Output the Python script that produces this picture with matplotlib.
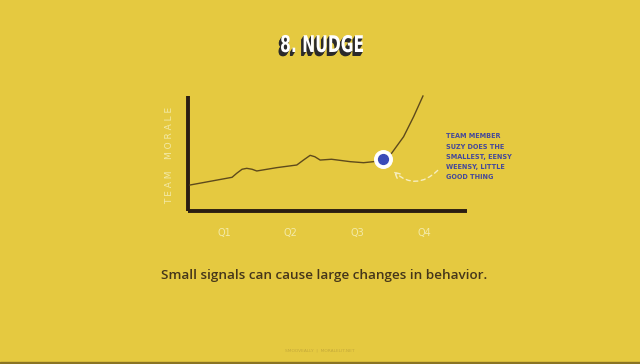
import numpy as np
import matplotlib.pyplot as plt
from matplotlib.patches import Rectangle, PathPatch
from matplotlib.textpath import TextPath
from matplotlib.font_manager import FontProperties
from matplotlib.transforms import Affine2D

# morale curve, x in quarters, y in morale units
curve_x = [0.49, 1.12, 1.19, 1.27, 1.34, 1.42, 1.49, 1.79, 2.09, 2.19, 2.29,
           2.36, 2.44, 2.61, 2.89, 3.09, 3.24, 3.38, 3.51, 3.69, 3.84, 3.98]
curve_y = [2.26, 2.93, 3.28, 3.63, 3.71, 3.63, 3.48, 3.77, 4.00, 4.43, 4.84,
           4.72, 4.43, 4.50, 4.29, 4.20, 4.29, 4.52, 5.02, 6.46, 8.20, 10.0]
nudge_x, nudge_y = 3.38, 4.52
quarters = [1, 2, 3, 4]
quarter_labels = ['Q1', 'Q2', 'Q3', 'Q4']
note = "TEAM MEMBER\nSUZY DOES THE\nSMALLEST, EENSY\nWEENSY, LITTLE\nGOOD THING"

bg = '#e5c940'
ink = '#2a1d12'

fig = plt.figure(figsize=(6.4, 3.64), dpi=100, facecolor=bg)

# overlay in pixel units for the condensed title
ov = fig.add_axes([0, 0, 1, 1])
ov.set_xlim(0, 640)
ov.set_ylim(0, 364)
ov.axis('off')
tp = TextPath((0, 0), '8. NUDGE', size=23,
              prop=FontProperties(family='DejaVu Sans', weight='bold'))
ext = tp.get_extents()
sx = 82 / ext.width
cx, cy = 322, 364 - 52
for k in range(5, 0, -1):
    tr = Affine2D().translate(-ext.x0, 0).scale(sx, 1).translate(cx - 41 - 0.5*k, cy - 0.8*k)
    ov.add_patch(PathPatch(tr.transform_path(tp), color='#2b2a2a', lw=0))
tr = Affine2D().translate(-ext.x0, 0).scale(sx, 1).translate(cx - 41, cy)
ov.add_patch(PathPatch(tr.transform_path(tp), color='white', lw=0))

ax = fig.add_axes([188/640, 1-211/364, (467-188)/640, (211-96)/364])
ax.set_facecolor(bg)
ax.set_xlim(0.46, 4.64)
ax.set_ylim(0, 10)

ax.plot(curve_x, curve_y, color='#5e4a1c', lw=1.0, clip_on=False, zorder=3)
ax.scatter([nudge_x], [nudge_y], s=160, color='white', zorder=4, clip_on=False)
ax.scatter([nudge_x], [nudge_y], s=50, color='#3a4bb8', zorder=5, clip_on=False)

# dashed arrow from note back to the nudge point
ax.annotate('', xy=(3.51, 3.6), xytext=(4.23, 3.7),
            arrowprops=dict(arrowstyle='->', color='#f6eec0', lw=1.0,
                            linestyle=(0, (3, 2.5)),
                            connectionstyle='arc3,rad=-0.5'),
            annotation_clip=False)
ax.text(4.33, 6.75, note, fontsize=4.7, color='#44489a', family='DejaVu Sans',
        fontweight='bold', va='top', ha='left', linespacing=1.85, clip_on=False)

for s in ['top', 'right']:
    ax.spines[s].set_visible(False)
for s in ['left', 'bottom']:
    ax.spines[s].set_linewidth(2.8)
    ax.spines[s].set_color(ink)
    ax.spines[s].set_capstyle('butt')
ax.set_yticks([])
ax.set_xticks(quarters)
ax.set_xticklabels(quarter_labels, color='#f3eaa8', fontsize=7)
ax.tick_params(axis='x', length=0, pad=12)

fig.text(170/640, 1-155/364, 'T E A M    M O R A L E', rotation=90,
         color='#f3eaa8', fontsize=6.5, ha='center', va='center')

fig.text(324/640, 1-275/364, 'Small signals can cause large changes in behavior.',
         color='#45361a', fontsize=9.7, fontweight='semibold', family='Open Sans',
         ha='center', va='center')

fig.text(320/640, 1-351/364, 'SMOOVEALLY  |  MORALELIT.NET', color='#c4a93a',
         fontsize=3.2, ha='center', va='center')
fig.patches.append(Rectangle((0, 0), 1, 2/364, transform=fig.transFigure,
                             color='#8a7424', zorder=0))

fig.savefig('out.png', dpi=100, facecolor=bg)
